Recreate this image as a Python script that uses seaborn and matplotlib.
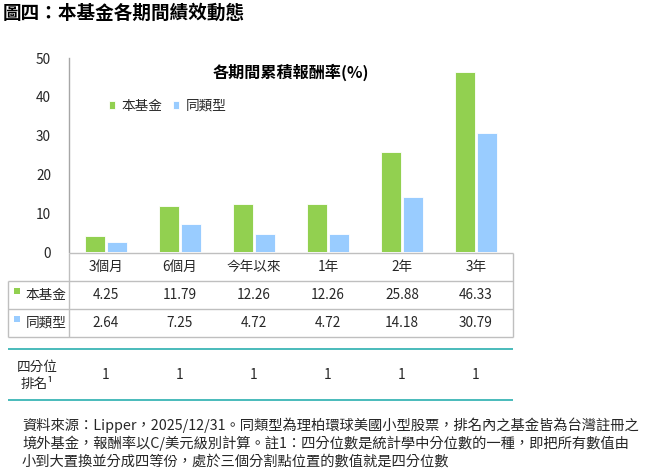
import numpy as np
import pandas as pd
import matplotlib
matplotlib.use("Agg")
import matplotlib.pyplot as plt
import seaborn as sns

# === Data ===
periods = ["3個月", "6個月", "今年以來", "1年", "2年", "3年"]
fund = [4.25, 11.79, 12.26, 12.26, 25.88, 46.33]
peer = [2.64, 7.25, 4.72, 4.72, 14.18, 30.79]
quartile = [1, 1, 1, 1, 1, 1]
series = ["本基金", "同類型"]
colors = ["#92D050", "#99CCFF"]
yticks = [0, 10, 20, 30, 40, 50]

fig_title = "圖四：本基金各期間績效動態"
chart_title = "各期間累積報酬率(%)"
quart_label = "四分位\n排名¹"
notes = [
    "資料來源：Lipper，2025/12/31。同類型為理柏環球美國小型股票，排名內之基金皆為台灣註冊之",
    "境外基金，報酬率以C/美元級別計算。註1：四分位數是統計學中分位數的一種，即把所有數值由",
    "小到大置換並分成四等份，處於三個分割點位置的數值就是四分位數",
]

df = pd.DataFrame({
    "period": periods * 2,
    "value": fund + peer,
    "series": [series[0]] * len(periods) + [series[1]] * len(periods),
})

# === Style ===
sns.set_theme(style="white")
plt.rcParams["font.family"] = ["Noto Sans CJK TC", "DejaVu Sans"]
TXT = "#262626"
GRID = "#BFBFBF"
TEAL = "#2AAFAF"

W, H = 646, 474
fig = plt.figure(figsize=(W / 100, H / 100), dpi=100)

def fx(px):
    return px / W

def fy(px):
    return 1 - px / H

# === Bar chart ===
ax = fig.add_axes([fx(69), fy(252), fx(513) - fx(69), fy(58) - fy(252)])
sns.barplot(data=df, x="period", y="value", hue="series", order=periods,
            hue_order=series, palette=colors, width=0.58, gap=0.08,
            edgecolor="white", linewidth=0.6, saturation=1, ax=ax)
ax.set_xlim(-0.5, len(periods) - 0.5)
ax.set_ylim(0, 50)
ax.set_yticks(yticks)
ax.set_yticklabels([str(v) for v in yticks], fontsize=9.8, color=TXT)
ax.set_xticks([])
ax.set_xlabel("")
ax.set_ylabel("")
ax.tick_params(axis="y", length=0, pad=13)
for side in ["top", "right", "bottom"]:
    ax.spines[side].set_visible(False)
ax.spines["left"].set_color("#A6A6A6")
ax.spines["left"].set_linewidth(1)

sns.move_legend(ax, "center left", bbox_to_anchor=(fx(109), fy(106)),
                bbox_transform=fig.transFigure, ncol=2, frameon=False,
                title=None, fontsize=9.8, handlelength=0.45, handleheight=0.45,
                handletextpad=0.45, columnspacing=0.8, borderpad=0,
                borderaxespad=0)
for t in ax.get_legend().get_texts():
    t.set_color(TXT)

fig.text(fx(291), fy(72), chart_title, ha="center", va="center",
         fontsize=11.6, fontweight="bold", color="black")
fig.text(fx(3), fy(13), fig_title, ha="left", va="center",
         fontsize=13.4, fontweight="bold", color="black")

# === Table under the chart ===
n = len(periods)
left_x = -0.5 - 61 / 74
tab = fig.add_axes([fx(8), fy(400), fx(513) - fx(8), fy(253) - fy(400)])
tab.set_xlim(left_x, n - 0.5)
tab.set_ylim(5.25, 0)
tab.axis("off")

lw = 1
tab.hlines(0, -0.5, n - 0.5, color=GRID, lw=lw, clip_on=False)
tab.hlines([1, 2, 3], left_x, n - 0.5, color=GRID, lw=lw, clip_on=False)
tab.vlines([-0.5, n - 0.5], 0, 3, color=GRID, lw=lw, clip_on=False)
tab.vlines(left_x, 1, 3, color=GRID, lw=lw, clip_on=False)
tab.hlines([3.43, 5.25], left_x, n - 0.5, color=TEAL, lw=1.2, clip_on=False)

fs = 9.8
for i, p in enumerate(periods):
    tab.text(i, 0.5, p, ha="center", va="center", fontsize=fs, color=TXT)
    tab.text(i, 1.5, f"{fund[i]:.2f}", ha="center", va="center", fontsize=fs, color=TXT)
    tab.text(i, 2.5, f"{peer[i]:.2f}", ha="center", va="center", fontsize=fs, color=TXT)
    tab.text(i, 4.36, str(quartile[i]), ha="center", va="center", fontsize=fs, color=TXT)

for r, (name, c) in enumerate(zip(series, colors)):
    tab.scatter([left_x + 0.12], [1.36 + r], marker="s", s=22, color=c,
                linewidths=0, clip_on=False)
    tab.text(-0.81, 1.5 + r, name, ha="center", va="center", fontsize=fs, color=TXT)

tab.text(-0.93, 4.36, quart_label, ha="center", va="center", fontsize=fs,
         color=TXT, linespacing=1.3)

# === Footnote ===
for k, line in enumerate(notes):
    fig.text(fx(22), fy(425 + 18.5 * k), line, ha="left", va="center",
             fontsize=10.3, color=TXT)

fig.savefig("out.png", dpi=100)
